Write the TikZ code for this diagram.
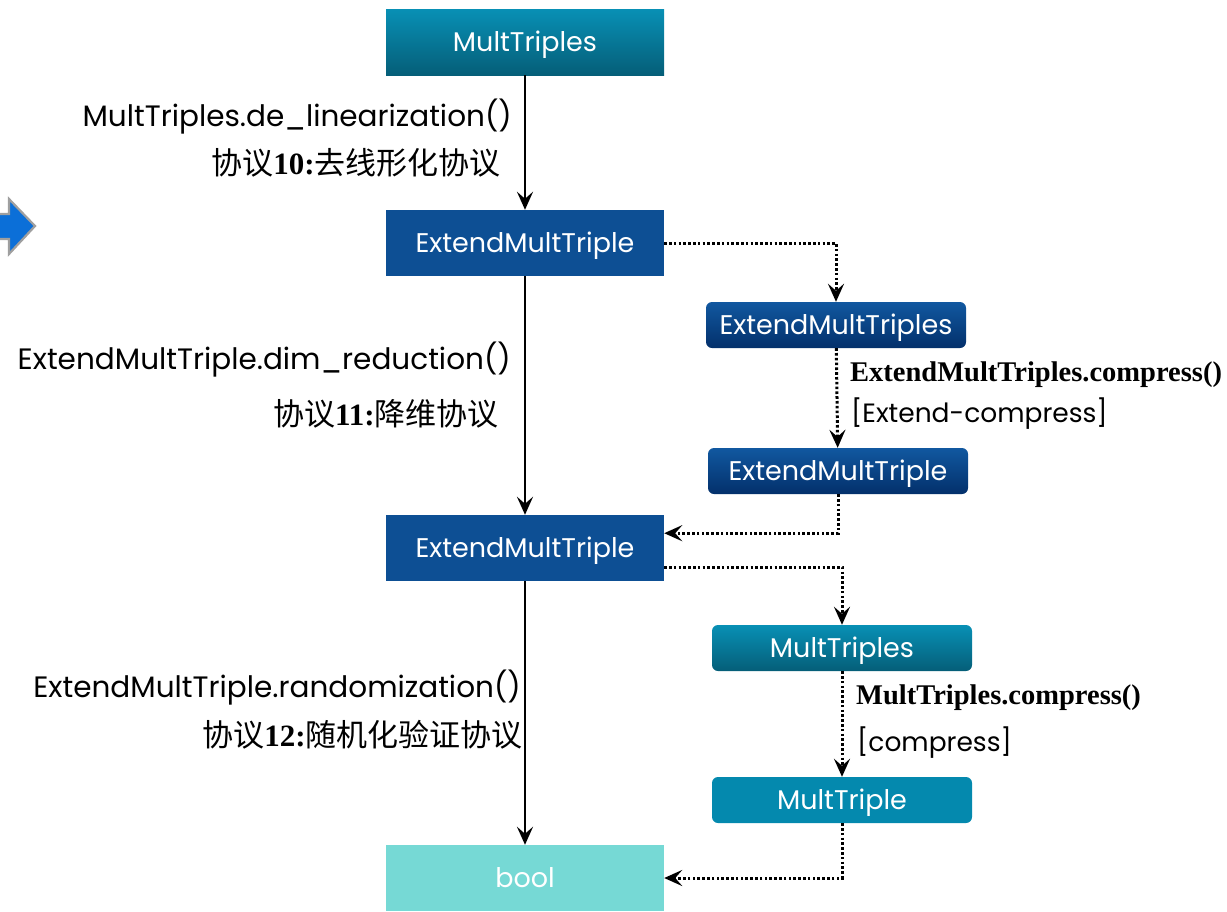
\documentclass[tikz,border=0pt]{standalone}
\usepackage{fontspec}
\setmainfont{Poppins}
\newfontfamily\cjk{Noto Sans CJK SC}
\newfontfamily\serifb{Liberation Serif}[BoldFont={* Bold}]
\usetikzlibrary{arrows.meta,positioning}

\definecolor{tealA}{HTML}{0890B5}
\definecolor{tealB}{HTML}{055E78}
\definecolor{navy}{HTML}{0D4F94}
\definecolor{navyA}{HTML}{1158A0}
\definecolor{navyB}{HTML}{03306B}
\definecolor{mteal}{HTML}{0489AE}
\definecolor{aqua}{HTML}{76D9D5}
\definecolor{arrowblue}{HTML}{0B6FD8}

\newcommand{\bnum}[1]{{\serifb\bfseries #1}}

\tikzset{
  box/.style={minimum width=278pt, minimum height=66pt, inner sep=0pt,
    text height=20pt, text depth=1pt,
    text=white, font=\fontsize{27}{30}\selectfont},
  rbox/.style={minimum width=260pt, minimum height=46pt, inner sep=0pt,
    text height=20pt, text depth=1pt,
    rounded corners=6pt, text=white, font=\fontsize{27}{30}\selectfont},
  flow/.style={line width=2.6pt, -{Stealth[length=18pt,width=16pt,inset=7pt]}},
  side/.style={line width=3pt, dash pattern=on 2.6pt off 2.2pt,
    -{Stealth[length=18pt,width=16pt,inset=7pt]}},
  call/.style={font=\fontsize{29.5}{32}\selectfont, inner sep=0pt},
  proto/.style={font=\cjk\fontsize{31}{34}\selectfont, inner sep=0pt},
  bcall/.style={font=\serifb\bfseries\fontsize{28.5}{32}\selectfont, inner sep=0pt},
  tag/.style={font=\fontsize{26.5}{30}\selectfont, inner sep=0pt},
}

\begin{document}
\begin{tikzpicture}[x=1pt,y=-1pt]
\useasboundingbox (0,0) rectangle (1227,911);

% block arrow cut by the left edge
\begin{scope}
  \clip (0,0) rectangle (1227,911);
  \draw[fill=arrowblue, draw=gray!75, line width=2.2pt]
    (-10,214) -- (9,214) -- (9,199) -- (35,226) -- (9,254) -- (9,239) -- (-10,239) -- cycle;
\end{scope}

% main column
\node[box, shade, shading angle=-45, top color=tealA, bottom color=tealB] (mt) at (525,42) {MultTriples};
\node[box, fill=navy] (emt1) at (525,243) {ExtendMultTriple};
\node[box, fill=navy] (emt2) at (525,548) {ExtendMultTriple};
\node[box, fill=aqua] (bool) at (525,878) {bool};

% side column
\node[rbox, top color=navyA, bottom color=navyB] (emts) at (836,325) {ExtendMultTriples};
\node[rbox, top color=navyA, bottom color=navyB] (emtc) at (838,471) {ExtendMultTriple};
\node[rbox, shade, shading angle=-45, top color=tealA, bottom color=tealB] (mts) at (842,648) {MultTriples};
\node[rbox, fill=mteal] (mtc) at (842,800) {MultTriple};

% main flow
\draw[flow] (mt) -- (emt1);
\draw[flow] (emt1) -- (emt2);
\draw[flow] (emt2) -- (bool);

% side flows
\draw[side] (emt1.east) -- (emts.north |- emt1.east) -- (emts.north);
\draw[side] (emts) -- (emtc);
\draw[side] (emtc.south) -- ++(0,39) coordinate (c1) -- (c1 -| emt2.east);
\draw[side] (emt2.east |- 0,567) coordinate (c2) -- (c2 -| mts.north) -- (mts.north);
\draw[side] (mts) -- (mtc);
\draw[side] (mtc.south) -- (mtc.south |- bool.east) -- (bool.east);

% labels on the main column
\node[call, anchor=east] (l1) at (512,117) {MultTriples.de\_linearization()};
\node[proto, anchor=east] (p1) at (501,163) {协议\bnum{10:}去线形化协议};
\node[call, anchor=east] (l2) at (511,360) {ExtendMultTriple.dim\_reduction()};
\node[proto, anchor=east] (p2) at (499,414) {协议\bnum{11:}降维协议};
\node[call, anchor=east] (l3) at (521,688) {ExtendMultTriple.randomization()};
\node[proto, anchor=east] (p3) at (523,735) {协议\bnum{12:}随机化验证协议};

% labels on the side column
\node[bcall, anchor=west] (s1) at (850,375) {ExtendMultTriples.compress()};
\node[tag, anchor=west] (t1) at (851,414) {[Extend-compress]};
\node[bcall, anchor=west] (s2) at (856,698) {MultTriples.compress()};
\node[tag, anchor=west] (t2) at (857,743) {[compress]};
\end{tikzpicture}
\end{document}
